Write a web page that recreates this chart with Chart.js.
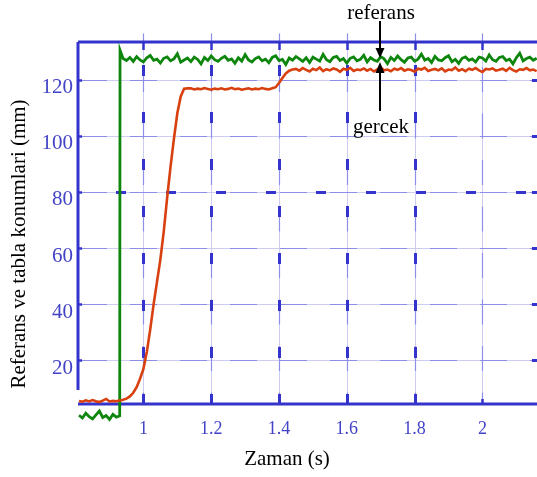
<!DOCTYPE html>
<html>
<head>
<meta charset="utf-8">
<script src="https://cdn.jsdelivr.net/npm/chart.js@4.4.1/dist/chart.umd.min.js"></script>
<style>
  html, body { margin: 0; padding: 0; background: #fff; }
  #wrap { width: 537px; height: 477px; }
</style>
</head>
<body>
<div id="wrap"><canvas id="scope" width="537" height="477"></canvas></div>
<script>
// sample times (s)
const times = [
  0.81, 0.82, 0.83, 0.84, 0.85, 0.86, 0.87, 0.88, 0.89, 0.90, 0.91, 0.92, 0.93, 0.931,
  0.94, 0.95, 0.96, 0.97, 0.98, 0.99,
  1.00, 1.01, 1.02, 1.03, 1.04, 1.05, 1.06, 1.07, 1.08, 1.09,
  1.10, 1.11, 1.12, 1.13, 1.14, 1.15, 1.16, 1.17, 1.18, 1.19,
  1.20, 1.21, 1.22, 1.23, 1.24, 1.25, 1.26, 1.27, 1.28, 1.29,
  1.30, 1.31, 1.32, 1.33, 1.34, 1.35, 1.36, 1.37, 1.38, 1.39,
  1.40, 1.41, 1.42, 1.43, 1.44, 1.45, 1.46, 1.47, 1.48, 1.49,
  1.50, 1.51, 1.52, 1.53, 1.54, 1.55, 1.56, 1.57, 1.58, 1.59,
  1.60, 1.61, 1.62, 1.63, 1.64, 1.65, 1.66, 1.67, 1.68, 1.69,
  1.70, 1.71, 1.72, 1.73, 1.74, 1.75, 1.76, 1.77, 1.78, 1.79,
  1.80, 1.81, 1.82, 1.83, 1.84, 1.85, 1.86, 1.87, 1.88, 1.89,
  1.90, 1.91, 1.92, 1.93, 1.94, 1.95, 1.96, 1.97, 1.98, 1.99,
  2.00, 2.01, 2.02, 2.03, 2.04, 2.05, 2.06, 2.07, 2.08, 2.09,
  2.10, 2.11, 2.12, 2.13, 2.14, 2.15, 2.16
];

// reference position (mm)
const referans = [
  0.5, -0.5, 1.2, 0.0, -0.8, 0.6, 2.0, -0.3, 0.4, -1.0, 0.8, -0.2, 0.3, 130.5,
  127.5, 126.8, 127.9, 126.5, 128.2, 127.0, 126.3, 127.8, 128.6, 126.9,
  127.3, 125.9, 127.6, 128.1, 126.7, 127.4, 129.2, 126.2, 127.0, 127.7,
  126.4, 128.0, 127.2, 125.6, 127.9, 126.8, 128.4, 127.1, 126.5, 127.6,
  128.3, 126.9, 127.4, 125.8, 127.8, 126.6, 128.9, 127.0, 126.3, 127.5,
  128.1, 126.7, 127.3, 126.0, 127.9, 128.5, 126.8, 127.2, 125.4, 127.7,
  126.9, 128.2, 127.4, 126.5, 127.8, 126.1, 128.0, 127.3, 126.6, 129.0,
  127.1, 126.4, 127.9, 128.3, 126.8, 127.5, 125.9, 127.6, 128.1, 126.7,
  127.2, 128.7, 126.3, 127.8, 127.0, 126.5, 128.2, 127.4, 125.7, 127.9,
  126.8, 128.4, 127.1, 126.2, 127.7, 128.0, 126.6, 127.3, 129.1, 126.9,
  127.5, 126.1, 128.3, 127.0, 126.7, 127.8, 128.5, 126.4, 127.2, 125.8,
  127.6, 128.1, 126.9, 127.4, 126.3, 128.0, 127.7, 126.6, 128.8, 127.1,
  126.5, 127.9, 128.2, 126.8, 127.3, 125.6, 127.8, 129.4, 126.7, 127.5,
  128.0, 126.9, 127.6
];

// measured table position (mm)
const gercek = [
  5.6, 5.3, 5.8, 5.4, 5.9, 5.5, 5.2, 5.7, 6.3, 5.4, 5.6, 5.5, 5.8, 5.7,
  6.0, 6.4, 7.2, 8.5, 10.5, 13.5,
  17.0, 23.0, 31.0, 40.0, 48.0, 56.0, 66.0, 78.0, 89.0, 99.0,
  108.0, 114.0, 116.8, 116.9,
  116.9, 116.5, 116.8, 116.6, 117.0, 116.7, 116.4, 116.8, 116.6, 116.9,
  116.5, 116.7, 117.1, 116.6, 116.8, 116.4, 116.7, 116.9, 116.5, 116.8,
  116.6, 117.0, 116.7, 116.5, 116.9,
  117.3, 118.8, 120.6, 122.2, 123.2, 123.6,
  123.8, 123.2, 124.1, 123.5, 122.9, 123.9, 123.4, 124.3, 123.0, 123.7,
  123.3, 124.0, 123.6, 122.8, 123.9, 123.5, 124.2, 123.1, 123.6, 123.4,
  124.0, 123.2, 123.8, 122.9, 123.7, 124.4, 123.3, 123.6, 123.0, 123.9,
  123.5, 124.1, 123.2, 123.7, 123.4, 122.8, 123.9, 123.6, 124.2, 123.1,
  123.5, 123.8, 123.3, 124.0, 122.9, 123.6, 123.4, 124.3, 123.2, 123.7,
  123.0, 123.9, 123.5, 124.1, 123.3, 122.7, 123.8, 123.6, 124.0, 123.2,
  123.5, 123.9, 123.1, 124.2, 123.4, 122.9, 123.7, 123.5, 124.1, 123.3,
  123.6, 123.0
];

const xTicks = [1, 1.2, 1.4, 1.6, 1.8, 2];
const yTicks = [20, 40, 60, 80, 100, 120];

const SERIF = "'Liberation Serif', 'Times New Roman', serif";
const AXIS_BLUE = '#3434cc';
const LABEL_BLUE = '#4343c8';

function seg(ctx, x0, y0, x1, y1) {
  ctx.beginPath();
  ctx.moveTo(x0, y0);
  ctx.lineTo(x1, y1);
  ctx.stroke();
}

// scope-style grid, axis frame and ticks
const scopeFrame = {
  id: 'scopeFrame',
  beforeDatasetsDraw(chart) {
    const { ctx, chartArea: a, scales: { x, y } } = chart;
    ctx.save();

    // faint full grid lines
    ctx.strokeStyle = '#cdcdf4';
    ctx.lineWidth = 1;
    xTicks.forEach(v => {
      const px = Math.round(x.getPixelForValue(v)) + 0.5;
      seg(ctx, px, a.top, px, a.bottom);
    });
    yTicks.forEach(v => {
      const py = Math.round(y.getPixelForValue(v)) + 0.5;
      seg(ctx, a.left, py, a.right, py);
    });

    // darker dotted runs
    ctx.strokeStyle = '#8e8ee8';
    ctx.lineWidth = 1.2;
    ctx.setLineDash([27, 23]);
    ctx.lineDashOffset = 0;
    yTicks.forEach(v => {
      const py = Math.round(y.getPixelForValue(v)) + 0.5;
      seg(ctx, 80, py, a.right, py);
    });
    ctx.setLineDash([25, 21.5]);
    ctx.lineDashOffset = -33.5 + a.top - 42;
    xTicks.forEach(v => {
      const px = Math.round(x.getPixelForValue(v)) + 0.5;
      seg(ctx, px, 33.5, px, a.bottom);
    });

    // heavy dashes
    ctx.strokeStyle = AXIS_BLUE;
    ctx.lineWidth = 3;
    ctx.setLineDash([11, 36]);
    ctx.lineDashOffset = 0;
    xTicks.slice(0, 5).forEach(v => {
      const px = Math.round(x.getPixelForValue(v)) + 0.5;
      seg(ctx, px, 65, px, a.bottom);
    });
    ctx.setLineDash([10, 40]);
    const y80 = Math.round(y.getPixelForValue(80)) + 0.5;
    seg(ctx, 116, y80, a.right, y80);
    ctx.setLineDash([]);

    // short marks on the right edge
    ctx.lineWidth = 3;
    yTicks.forEach(v => {
      const py = Math.round(y.getPixelForValue(v)) + 0.5;
      seg(ctx, a.right - 5, py, a.right, py);
    });

    // frame
    ctx.strokeStyle = AXIS_BLUE;
    ctx.lineWidth = 3;
    seg(ctx, a.left, a.top, a.right, a.top);
    seg(ctx, a.left, a.top, a.left, 390);
    seg(ctx, a.left, a.bottom, a.right, a.bottom);

    // tick marks
    ctx.lineWidth = 2.5;
    xTicks.forEach(v => {
      const px = Math.round(x.getPixelForValue(v)) + 0.5;
      seg(ctx, px, a.top, px, a.top + 8);
      seg(ctx, px, a.bottom, px, a.bottom - 5);
    });
    yTicks.forEach(v => {
      const py = Math.round(y.getPixelForValue(v)) + 0.5;
      seg(ctx, a.left, py, a.left + 4, py);
    });
    ctx.restore();
  },
  afterDatasetsDraw(chart) {
    const { ctx } = chart;
    ctx.save();
    ctx.fillStyle = '#000';
    ctx.strokeStyle = '#000';
    ctx.lineWidth = 2;
    ctx.font = '21px ' + SERIF;
    ctx.textAlign = 'center';
    ctx.textBaseline = 'middle';
    ctx.fillText('referans', 381, 13);
    ctx.fillText('gercek', 381, 127);

    // arrow down to the reference trace
    seg(ctx, 380, 21, 380, 49);
    ctx.beginPath();
    ctx.moveTo(375.5, 48); ctx.lineTo(384.5, 48); ctx.lineTo(380, 58);
    ctx.closePath(); ctx.fill();
    // arrow up to the measured trace
    seg(ctx, 380, 72, 380, 111);
    ctx.beginPath();
    ctx.moveTo(375.5, 73); ctx.lineTo(384.5, 73); ctx.lineTo(380, 62);
    ctx.closePath(); ctx.fill();
    ctx.restore();
  },
  afterDraw(chart) {
    const { ctx } = chart;
    ctx.save();
    ctx.fillStyle = '#000';
    ctx.font = '21px ' + SERIF;
    ctx.textAlign = 'center';
    ctx.textBaseline = 'middle';
    ctx.fillText('Zaman (s)', 287, 459);
    ctx.translate(19, 244);
    ctx.rotate(-Math.PI / 2);
    ctx.fillText('Referans ve tabla konumlari (mm)', 0, 0);
    ctx.restore();
  }
};

new Chart(document.getElementById('scope'), {
  type: 'line',
  data: {
    datasets: [
      {
        label: 'gercek',
        data: times.map((t, i) => ({ x: t, y: gercek[i] })),
        borderColor: '#d8400f',
        borderWidth: 2.6,
        pointRadius: 0,
        clip: false
      },
      {
        label: 'referans',
        data: times.map((t, i) => ({ x: t, y: referans[i] })),
        borderColor: '#0e860e',
        borderWidth: 2.8,
        pointRadius: 0,
        clip: false
      }
    ]
  },
  options: {
    responsive: false,
    devicePixelRatio: 1,
    animation: false,
    layout: { padding: { top: 42, left: 0, right: 0, bottom: 0 } },
    plugins: { legend: { display: false }, tooltip: { enabled: false } },
    scales: {
      x: {
        type: 'linear',
        min: 0.807,
        max: 2.161,
        afterBuildTicks: s => { s.ticks = xTicks.map(v => ({ value: v })); },
        afterFit: s => { s.height = 73; },
        grid: { display: false, drawTicks: false },
        border: { display: false },
        ticks: {
          color: LABEL_BLUE,
          font: { family: SERIF, size: 18 },
          padding: 14,
          maxRotation: 0,
          callback: v => String(v)
        }
      },
      y: {
        min: 4.5,
        max: 133.4,
        afterBuildTicks: s => { s.ticks = yTicks.map(v => ({ value: v })); },
        afterFit: s => { s.width = 78; },
        grid: { display: false, drawTicks: false },
        border: { display: false },
        ticks: {
          color: LABEL_BLUE,
          font: { family: SERIF, size: 21 },
          padding: 5,
          labelOffset: 8,
          callback: v => String(v)
        }
      }
    }
  },
  plugins: [scopeFrame]
});
</script>
</body>
</html>
